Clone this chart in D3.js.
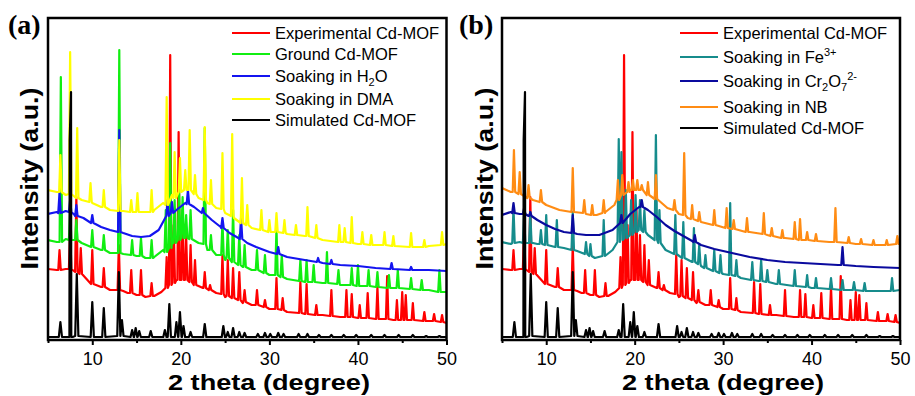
<!DOCTYPE html>
<html><head><meta charset="utf-8">
<script src="https://cdn.jsdelivr.net/npm/d3@7"></script>
<style>body{margin:0;background:#fff}svg{display:block}</style>
</head><body>
<svg id="c" width="915" height="396"></svg>
<script>
// ---- data (2θ in degrees, intensity in arbitrary units) ----
const majorTicks = [10, 20, 30, 40, 50];
const minorTicks = [5, 15, 25, 35, 45];
// baselines: [2θ, intensity]; peaks: [2θ, top intensity, foot intensity]
const simulatedBase = [[5,3],[50,3]];
const simulatedPeaks = [[6.4,18,3],[7.45,200,3],[7.6,248,3],[8.25,66,4],[10.0,38,3],[11.3,32,3],[13.0,68,4],[13.35,20,4],[14.5,10,3],[14.9,12,3],[15.3,9,3],[16.6,9,3],[18.2,10,3],[18.7,36,3],[19.5,18,3],[19.9,28,3],[20.3,14,3],[21.1,8,3],[22.7,16,3],[24.8,14,3],[25.3,8,3],[25.9,12,3],[26.6,8,3],[27.2,7,3],[28.7,6,3],[29.5,7,3],[30.1,6,3],[31.0,7,3],[31.6,6,3],[33.3,6,3],[34.3,6,3],[35.6,5,3],[37.0,5,3],[38.4,5,3],[39.8,5,3],[41.5,5,3],[43.0,5,3],[44.6,5,3],[46.2,5,3],[47.7,4,3],[49.2,4,3]];

const experimentalBase = [[5,71],[6,70],[7,71],[8.8,65],[10,56],[11,53],[12,50],[13.5,49],[14,47],[15,45],[16,43],[17,44],[17.8,48],[18.5,54],[19.5,60],[20.5,60],[21.5,56],[22.5,52],[24,47],[25,43],[26,40],[27,37],[28,35],[30,31],[32,28],[34,26],[36,25],[38,23],[40,22],[42,21],[44,20],[46,20],[48,19],[50,17]];
const experimentalPeaks = [[6.3,90,70],[7.5,110,71],[8.2,143,68],[8.7,92,66],[10.0,90,56],[11.3,72,53],[13.0,95,50],[14.4,70,47],[15.5,70,45],[16.7,57,44],[18.4,83,52],[18.8,285,55],[19.2,115,57],[19.75,208,60],[20.2,130,60],[20.6,105,60],[21.1,95,58],[21.6,80,55],[22.7,68,52],[23.3,55,50],[24.7,85,46],[25.3,80,44],[25.9,72,42],[26.6,68,40],[27.2,50,38],[28.6,50,35],[29.5,40,33],[30.8,62,31],[31.5,42,30],[33.5,58,27],[34.2,56,26],[35.3,35,25],[37.0,50,24],[38.7,50,23],[39.3,46,23],[40.2,35,22],[41.1,47,22],[42.2,53,21],[43.3,64,21],[44.4,40,20],[45.0,48,20],[45.4,45,20],[46.2,37,20],[47.5,28,19],[48.6,26,19],[49.5,25,18]];

const groundBase = [[5,100],[6,98],[7,101],[8.8,97],[10,93],[11,90],[12,87],[13.5,86],[15,84],[16,82],[17,83],[18,90],[19,98],[20,102],[21,102],[22,97],[23,90],[24,85],[25,80],[26,77],[27,73],[28,70],[30,65],[32,61],[34,58],[36,57],[38,55],[40,54],[42,53],[44,52],[46,51],[48,50],[50,48]];
const groundPeaks = [[6.45,263,98],[7.5,130,100],[8.2,120,100],[10.0,110,93],[11.3,105,90],[13.05,290,87],[14.5,100,85],[15.5,102,84],[16.7,100,82],[18.3,130,88],[18.8,197,92],[19.3,140,97],[19.8,150,100],[20.2,143,102],[20.6,125,102],[21.1,130,101],[22.7,212,96],[23.4,105,90],[24.7,118,85],[25.3,110,82],[25.9,130,78],[26.6,105,75],[27.2,95,73],[28.6,90,70],[29.5,85,67],[30.8,112,65],[31.4,85,63],[33.5,80,59],[34.2,80,58],[35.0,75,58],[36.5,88,57],[37.8,70,56],[39.3,72,55],[40.0,75,54],[41.2,70,54],[42.2,68,53],[43.5,65,52],[44.5,70,52],[46.0,62,51],[47.2,60,50],[49.2,70,48]];

const waterBase = [[5,126],[6,128],[7,129],[8,125],[9,122],[10,117],[11,113],[12,110],[13.5,107],[14.5,104],[15.5,103],[16.5,104],[17.5,110],[18.5,124],[19.5,130],[20.5,137],[21.5,133],[22.5,127],[23.5,120],[24.5,113],[25.5,107],[26.5,102],[27.5,97],[28.5,93],[30,88],[32,83],[34,80],[36,77],[38,75],[40,74],[42,72],[44,71],[46,70],[48,70],[50,69]];
const waterPeaks = [[6.3,147,127],[7.5,140,128],[8.2,135,124],[10.0,125,117],[13.05,210,108],[18.5,140,124],[19.0,138,127],[20.8,150,136],[22.5,132,127],[24.7,122,112],[26.8,122,101],[31.0,93,86],[35.5,82,78],[37.0,80,76],[43.8,77,71],[46.0,73,70]];

const dmaBase = [[5,150],[6,148],[7,145],[8.8,140],[10,137],[11,133],[12,130],[13.5,129],[15,128],[16,128],[17,130],[18,137],[19,145],[20,150],[21,148],[22,142],[23,137],[24,132],[25,127],[26,122],[27,117],[28,112],[30,108],[32,106],[34,104],[36,100],[38,98],[40,96],[42,95],[44,94],[46,93],[48,94],[50,96]];
const dmaPeaks = [[6.4,185,148],[7.5,288,146],[8.3,212,142],[9.8,157,138],[11.3,150,133],[13.05,200,129],[14.4,140,128],[15.1,147,128],[16.7,150,128],[18.4,243,135],[19.3,188,142],[19.9,182,148],[20.5,170,150],[21.0,210,150],[21.6,165,146],[22.7,213,140],[23.4,160,136],[24.7,187,131],[25.8,206,124],[26.9,162,117],[27.5,135,115],[29.1,130,110],[30.0,120,108],[30.8,127,108],[31.7,120,107],[33.0,115,105],[34.3,133,104],[35.3,115,102],[37.9,115,98],[38.5,112,98],[39.3,123,97],[40.5,108,96],[41.5,105,95],[43.0,108,95],[44.0,104,94],[46.0,107,93],[47.5,100,93],[49.5,108,95]];

const nbBase = [[5,152],[6,148],[7,144],[8.5,140],[10,135],[11.5,130],[13,128],[14.5,126],[15.7,125],[16.7,128],[17.7,135],[18.5,144],[19.5,150],[20.5,150],[21.5,145],[22.5,140],[23.7,132],[25,126],[26,122],[27.5,118],[29,115],[31,111],[33,108],[35,105],[37,102],[39,100],[42,98],[45,96],[48,95],[50,96]];
const nbPeaks = [[6.35,190,148],[7.0,168,146],[8.0,155,142],[9.4,150,138],[13.0,172,128],[14.3,140,127],[15.2,135,125],[16.5,140,127],[18.1,160,140],[18.6,165,145],[19.3,158,148],[19.8,160,150],[20.3,160,150],[20.8,155,150],[21.5,158,145],[22.4,165,141],[24.5,140,130],[25.6,187,125],[26.5,135,121],[27.3,128,119],[29.0,130,115],[30.4,132,112],[31.2,120,111],[32.7,122,108],[34.6,127,106],[35.5,112,104],[36.7,110,102],[38.1,118,101],[38.7,121,100],[39.5,108,100],[40.5,106,99],[42.7,132,98],[44.2,103,97],[45.6,101,96],[47.0,100,95],[48.5,100,95],[49.7,104,96]];

const feBase = [[5,98],[6,96],[7,98],[8.5,97],[9,96],[10.1,95],[11,93],[12,92],[13.5,89],[14.5,86],[15.5,82],[16.5,84],[17.5,90],[18.5,100],[19.5,105],[20.5,110],[21.5,105],[22.5,100],[23.5,90],[24.5,85],[25.5,82],[26.5,78],[27.5,74],[29,69],[30,66],[32,62],[34,59],[36,56],[38,54],[40,52],[42,51],[44,50],[46,49],[48,49],[50,50]];
const fePeaks = [[6.3,132,97],[7.5,125,97],[8.2,128,97],[9.4,110,96],[10.0,125,95],[11.2,120,93],[13.0,128,90],[14.5,98,86],[15.0,96,84],[16.5,120,84],[18.2,201,98],[18.5,188,100],[19.0,150,102],[19.6,140,105],[20.1,145,108],[20.6,140,110],[21.1,130,108],[22.4,205,100],[22.8,130,97],[24.6,125,86],[25.5,118,82],[26.7,112,78],[27.3,95,76],[28.0,85,72],[29.0,90,69],[29.7,85,67],[30.8,137,65],[31.5,80,64],[33.3,78,60],[34.3,80,59],[35.0,70,58],[36.3,70,56],[38.1,70,54],[39.5,65,53],[40.5,62,52],[42.2,62,51],[43.5,60,50],[44.8,58,50],[46.0,57,49],[49.1,62,49]];

const crBase = [[5,125],[6,128],[7,126],[8,124],[9,120],[10,115],[11,111],[12,108],[13.5,106],[14.5,105],[16,105],[17.5,110],[18.5,117],[19.5,126],[20.5,133],[21.5,130],[22.5,123],[23.5,115],[24.5,109],[25.5,104],[26.5,99],[27.5,95],[29,91],[31,87],[33,83],[35,80],[37,78],[39,77],[41,76],[43,75],[45,74],[47,73],[50,72]];
const crPeaks = [[6.3,137,127],[7.5,132,126],[8.2,128,124],[13.0,125,107],[18.5,125,117],[20.8,140,133],[26.8,105,98],[43.5,93,75]];

// legend labels: segments [text, kind] (n normal, sub, sup)
const labelsA = [
  [["Experimental Cd-MOF","n"]],
  [["Ground Cd-MOF","n"]],
  [["Soaking in H","n"],["2","sub"],["O","n"]],
  [["Soaking in DMA","n"]],
  [["Simulated Cd-MOF","n"]]
];
const labelsB = [
  [["Experimental Cd-MOF","n"]],
  [["Soaking in Fe","n"],["3+","sup"]],
  [["Soaking in Cr","n"],["2","sub"],["O","n"],["7","sub"],["2-","sup"]],
  [["Soaking in NB","n"]],
  [["Simulated Cd-MOF","n"]]
];

// ---- drawing ----
const svg = d3.select("#c");
svg.append("rect").attr("width",915).attr("height",396).attr("fill","#fff");

function build(base, peaks, w) {
  const pts = base.filter(b => !peaks.some(p => Math.abs(b[0]-p[0]) < w));
  peaks.forEach(p => { pts.push([p[0]-w, p[2]], [p[0], p[1]], [p[0]+w, p[2]]); });
  return pts.sort((a,b) => a[0]-b[0]);
}

function panel(cfg) {
  const x = d3.scaleLinear().domain([5,50]).range([cfg.x0, cfg.x1]);
  const y = d3.scaleLinear().domain([0,322]).range([340,18]);
  const g = svg.append("g");
  const cid = "clip" + cfg.id;
  svg.append("defs").append("clipPath").attr("id",cid)
    .append("rect").attr("x",cfg.x0).attr("y",18).attr("width",cfg.x1-cfg.x0).attr("height",322);
  const line = d3.line().x(d=>x(d[0])).y(d=>y(d[1]));
  const lg = g.append("g").attr("clip-path",`url(#${cid})`);
  cfg.series.forEach(s => {
    lg.append("path").attr("d", line(build(s.base, s.peaks, s.w)))
      .attr("fill","none").attr("stroke",s.color).attr("stroke-width",2.2).attr("stroke-linejoin","round");
  });
  // frame
  g.append("rect").attr("x",cfg.x0).attr("y",18).attr("width",cfg.x1-cfg.x0).attr("height",322)
    .attr("fill","none").attr("stroke","#000").attr("stroke-width",2.5);
  // axes
  const ax = g.append("g").attr("transform","translate(0,340)")
    .call(d3.axisBottom(x).tickValues(majorTicks).tickSize(5).tickSizeOuter(0).tickPadding(7));
  ax.select(".domain").remove();
  ax.selectAll("line").attr("stroke-width",2);
  ax.selectAll("text").attr("font-family","Liberation Sans, Arial, sans-serif").attr("font-size",18).attr("fill","#000");
  const mx = g.append("g").attr("transform","translate(0,340)")
    .call(d3.axisBottom(x).tickValues(minorTicks).tickSize(3).tickSizeOuter(0).tickFormat(""));
  mx.select(".domain").remove();
  mx.selectAll("line").attr("stroke-width",2);
  // labels
  g.append("text").attr("x",cfg.xlab).attr("y",390).attr("text-anchor","middle")
    .attr("font-family","Liberation Sans, Arial, sans-serif").attr("font-weight","bold").attr("font-size",22.5)
    .attr("textLength",202).attr("lengthAdjust","spacingAndGlyphs").text("2 theta (degree)");
  g.append("text").attr("transform",`translate(${cfg.ylab},178.5) rotate(-90)`).attr("text-anchor","middle")
    .attr("font-family","Liberation Sans, Arial, sans-serif").attr("font-weight","bold").attr("font-size",24.5)
    .attr("textLength",182).attr("lengthAdjust","spacingAndGlyphs").text("Intensity (a.u.)");
  g.append("text").attr("x",cfg.plab).attr("y",34)
    .attr("font-family","Liberation Serif, Times New Roman, serif").attr("font-weight","bold").attr("font-size",28)
    .text(cfg.tag);
  // legend
  cfg.legend.forEach((segs,i) => {
    const ly = cfg.legY[i];
    const s = cfg.legOrder[i];
    g.append("line").attr("x1",cfg.legX).attr("x2",cfg.legX+38).attr("y1",ly).attr("y2",ly)
      .attr("stroke",s.color).attr("stroke-width",2.2);
    const t = g.append("text").attr("x",cfg.legX+43).attr("y",ly+6)
      .attr("font-family","Liberation Sans, Arial, sans-serif").attr("font-size",16.5).attr("fill","#000");
    let shift = 0;
    segs.forEach(([txt,kind]) => {
      const target = kind==="sub" ? 4 : kind==="sup" ? -7 : 0;
      t.append("tspan").attr("dy", target-shift).attr("font-size", kind==="n"?16.5:11).text(txt);
      shift = target;
    });
  });
}

const red = {base:experimentalBase, peaks:experimentalPeaks, color:"#ff0000", w:0.14};
const black = {base:simulatedBase, peaks:simulatedPeaks, color:"#000000", w:0.18};
const green = {base:groundBase, peaks:groundPeaks, color:"#11ee11", w:0.14};
const blue = {base:waterBase, peaks:waterPeaks, color:"#1414f0", w:0.14};
const yellow = {base:dmaBase, peaks:dmaPeaks, color:"#ffff00", w:0.14};
const teal = {base:feBase, peaks:fePeaks, color:"#168c8c", w:0.14};
const navy = {base:crBase, peaks:crPeaks, color:"#0a0a9e", w:0.14};
const orange = {base:nbBase, peaks:nbPeaks, color:"#ff8c14", w:0.14};

panel({id:"a", x0:48, x1:446.5, tag:"(a)", plab:8, xlab:269, ylab:38,
  series:[red, green, blue, yellow, black],
  legend:labelsA, legOrder:[red, green, blue, yellow, black], legX:232, legY:[33,54,76,99,120]});
panel({id:"b", x0:502, x1:900, tag:"(b)", plab:459, xlab:723, ylab:493,
  series:[red, teal, navy, orange, black],
  legend:labelsB, legOrder:[red, teal, navy, orange, black], legX:680, legY:[33,57,81,107,128]});
</script>
</body></html>
